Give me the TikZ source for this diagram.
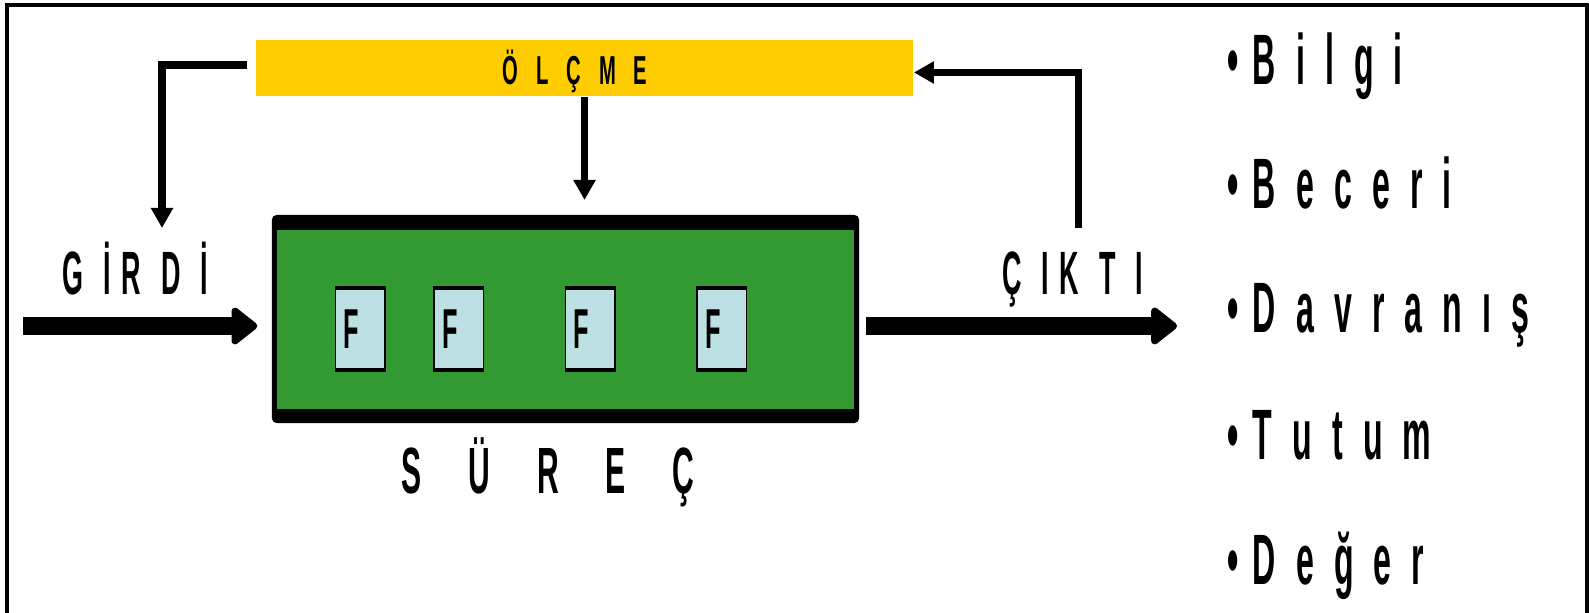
\documentclass[tikz,border=0pt]{standalone}
\usepackage{fontspec}
\usetikzlibrary{arrows.meta}

\newfontfamily\condfont[FakeStretch=0.45,WordSpace=2.25]{Liberation Sans}
\newfontfamily\labelfont[FakeStretch=0.44,WordSpace=2.7]{Liberation Sans}
\newfontfamily\surecfont[FakeStretch=0.46,WordSpace=5.6]{Liberation Sans}
\newfontfamily\barfont[FakeStretch=0.5,WordSpace=3.2]{Liberation Sans}

\definecolor{olcmeyellow}{HTML}{FFCC00}
\definecolor{surecgreen}{HTML}{339933}
\definecolor{fcellblue}{HTML}{BDE0E4}

\tikzset{
  feed/.style={line width=2pt, -{Triangle[length=5.7pt,width=6pt]}},
  flow/.style={line width=5.4pt, -{Triangle[round,length=8pt,width=12pt,line width=4pt]}},
  bigtext/.style={font=\labelfont\bfseries\fontsize{17.4}{20}\selectfont, inner sep=0pt, anchor=base west},
  listtext/.style={font=\condfont\bfseries\fontsize{20.3}{24}\selectfont, inner sep=0pt, anchor=base west},
  surecbox/.style={draw=black, line width=1.42pt, fill=surecgreen, rounded corners=0.8pt,
    minimum width=5.82cm, minimum height=2.03cm, inner sep=0pt,
    path picture={
      \fill[black] (path picture bounding box.north west) rectangle ([yshift=-0.125cm]path picture bounding box.north east);
      \fill[black] (path picture bounding box.south west) rectangle ([yshift=0.115cm]path picture bounding box.south east);
    }},
  ftext/.style={anchor=west, inner xsep=0.085cm, inner ysep=0pt,
    font=\condfont\bfseries\fontsize{16}{18}\selectfont},
  fcell/.style={draw=black, line width=0.43pt, fill=fcellblue,
    minimum width=0.495cm, minimum height=0.845cm, inner sep=0pt,
    path picture={
      \fill[black] (path picture bounding box.north west) rectangle ([yshift=-0.0325cm]path picture bounding box.north east);
      \fill[black] (path picture bounding box.south west) rectangle ([yshift=0.0325cm]path picture bounding box.south east);
    }}
}

\begin{document}
\begin{tikzpicture}[x=0.01cm, y=-0.01cm]

\useasboundingbox (0,0) rectangle (1589,613);
\clip (0,0) rectangle (1589,613);

% frame
\draw[line width=1pt] (7,5) rectangle (1587,650);

% measurement bar and process box
\node[fill=olcmeyellow, minimum width=6.57cm, minimum height=0.56cm, inner sep=0pt,
      text height=0.33cm, text depth=0pt,
      font=\barfont\bfseries\fontsize{11.5}{13}\selectfont] (olcme) at (584.5,68) {Ö L Ç M E\kern0.19cm};
\node[surecbox] (surec) at (565.5,319) {};

\node[fcell, label={[ftext]west:F}] (f1) at (360.3,329) {};
\node[fcell, label={[ftext]west:F}] (f2) at (458.6,329) {};
\node[fcell, label={[ftext]west:F}] (f3) at (590.1,329) {};
\node[fcell, label={[ftext]west:F}] (f4) at (721.5,329) {};

% labels
\node[bigtext] (girdi) at (62,295) {G İ\,R D İ};
\node[bigtext] (cikti) at (1001.5,295) {Ç I\,K T I};
\node[anchor=base west, inner sep=0pt, font=\surecfont\bfseries\fontsize{18.6}{22}\selectfont] (sureclabel) at (401,493) {S Ü R E Ç};

% outcomes
\node[listtext] (bilgi) at (1227,85) {•\hspace{0.14cm}B i l g i};
\node[listtext] (beceri) at (1227,209) {•\hspace{0.14cm}B e c e r i};
\node[listtext] (davranis) at (1227,333) {•\hspace{0.14cm}D a v r a n ı ş};
\node[listtext] (tutum) at (1227,459) {•\hspace{0.14cm}T u t u m};
\node[listtext] (deger) at (1227,584) {•\hspace{0.14cm}D e ğ e r};

% arrow ends
\coordinate (in0) at (23,326);
\coordinate (out0) at (1177,326);
\coordinate (inback) at (162,228);
\coordinate (mid) at (584.5,200);
\coordinate (outback) at (1078,228);

% input, output
\draw[flow, shorten >=0.145cm] (in0) -- (in0 -| surec.west);
\draw[flow, shorten <=0.065cm] (out0 -| surec.east) -- (out0);

% feedback lines
\draw[feed] ([xshift=-0.08cm,yshift=0.03cm]olcme.west) -| (inback);
\draw[feed] (olcme.south) -- (mid);
\draw[feed] (outback) |- ([yshift=-0.045cm]olcme.east);

\end{tikzpicture}
\end{document}
